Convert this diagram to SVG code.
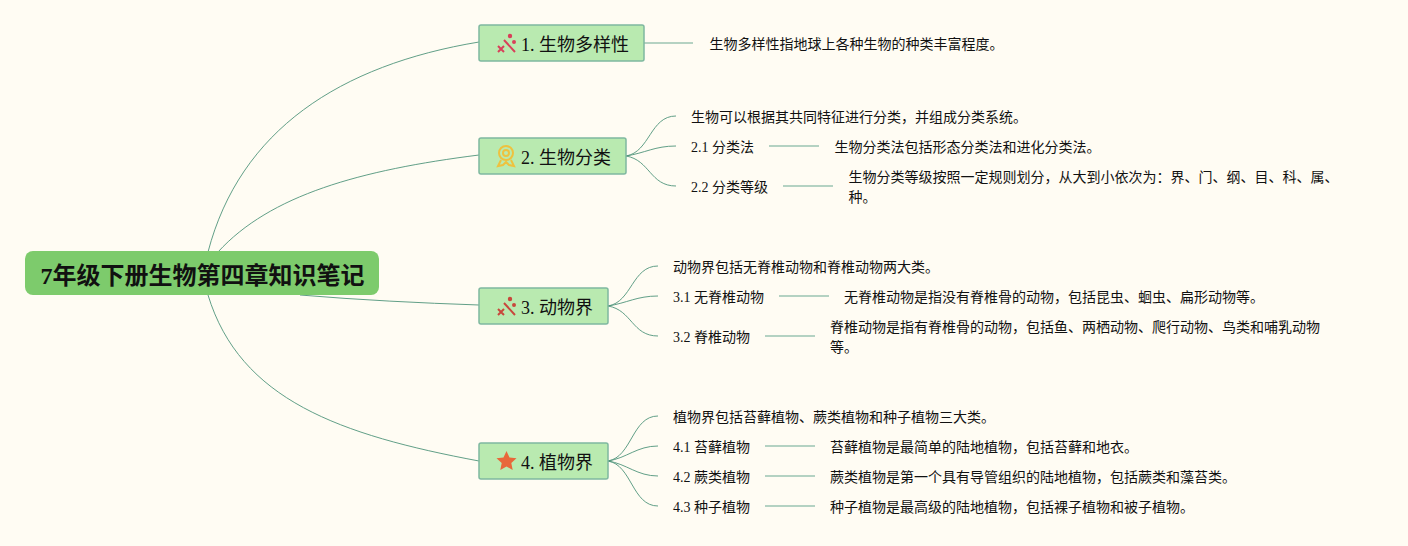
<svg xmlns="http://www.w3.org/2000/svg" width="1408" height="546" viewBox="0 0 1408 546">
<style>
text{font-family:"Liberation Serif","Noto Sans CJK SC",serif;fill:#111}
.t{font-size:14px}
.b{font-size:18px}
.box{fill:#b9eab0;stroke:#7fb8a0;stroke-width:1.5}
.c{fill:none;stroke:#4f947a;stroke-width:.9}
.l{fill:none;stroke:#9cc4b2;stroke-width:1.3}
</style>
<rect width="1408" height="546" fill="#fffcf3"/>
<g id="connectors">
<path class="c" d="M208 252C240 130 340 65 479 42"/>
<path class="c" d="M218 252C270 195 360 170 479 155"/>
<path class="c" d="M300 295C360 300 420 303 479 305"/>
<path class="c" d="M208 295C240 400 340 435 479 461"/>
<path class="l" d="M644 43H693"/>
<path class="c" d="M626 156C650 152 650 116 676 116"/>
<path class="c" d="M626 156C645 153 655 146 676 146"/>
<path class="c" d="M626 156C650 160 650 186 676 186"/>
<path class="l" d="M769 146H819M783 186H833"/>
<path class="c" d="M608 306C632 302 632 266 658 266"/>
<path class="c" d="M608 306C627 303 637 296 658 296"/>
<path class="c" d="M608 306C632 310 632 336 658 336"/>
<path class="l" d="M779 296H829M765 336H815"/>
<path class="c" d="M608 461C632 457 632 416 658 416"/>
<path class="c" d="M608 461C627 458 637 446 658 446"/>
<path class="c" d="M608 461C627 464 637 476 658 476"/>
<path class="c" d="M608 461C632 465 632 506 658 506"/>
<path class="l" d="M765 446H815M765 476H815M765 506H815"/>
</g>
<g id="root">
<rect x="25" y="251" width="354" height="44" rx="8" fill="#7dcb6c"/>
<text x="40.500" y="284" font-size="24" font-weight="bold">7年级下册生物第四章知识笔记</text>
</g>
<g id="n1">
<rect class="box" x="479" y="25" width="165" height="36" rx="2"/>
<g stroke="#d8405a" stroke-width="2" fill="#d8405a"><path d="M504 40L515 52M498 46l6 6M504 46l-6 6"/><circle cx="510" cy="36" r="1.200"/><circle cx="514" cy="42" r="1"/></g>
<text class="b" x="521" y="51">1. 生物多样性</text>
</g>
<text id="n1-1" class="t" x="709.500" y="49">生物多样性指地球上各种生物的种类丰富程度。</text>
<g id="n2">
<rect class="box" x="479" y="138" width="147" height="36" rx="2"/>
<g fill="none" stroke="#eec23f" stroke-width="2"><circle cx="506" cy="153" r="7"/><circle cx="506" cy="153" r="3"/><path d="M501 160l-3 6 5-1 3-3 3 3 5 1-3-6"/></g>
<text class="b" x="521" y="164">2. 生物分类</text>
</g>
<text id="n2-0" class="t" x="691" y="122">生物可以根据其共同特征进行分类，并组成分类系统。</text>
<text id="n2-1" class="t" x="691" y="152">2.1 分类法</text>
<text id="n2-1-1" class="t" x="834.500" y="152">生物分类法包括形态分类法和进化分类法。</text>
<text id="n2-2" class="t" x="691" y="192">2.2 分类等级</text>
<g id="n2-2-1"><text class="t" x="848.500" y="182">生物分类等级按照一定规则划分，从大到小依次为：界、门、纲、目、科、属、</text><text class="t" x="848.500" y="202">种。</text></g>
<g id="n3">
<rect class="box" x="479" y="288" width="129" height="36" rx="2"/>
<g stroke="#c8483c" stroke-width="2" fill="#c8483c"><path d="M504 303L515 315M498 309l6 6M504 309l-6 6"/><circle cx="510" cy="299" r="1.200"/><circle cx="514" cy="305" r="1"/></g>
<text class="b" x="521" y="314">3. 动物界</text>
</g>
<text id="n3-0" class="t" x="673" y="272">动物界包括无脊椎动物和脊椎动物两大类。</text>
<text id="n3-1" class="t" x="673" y="302">3.1 无脊椎动物</text>
<text id="n3-1-1" class="t" x="844" y="302">无脊椎动物是指没有脊椎骨的动物，包括昆虫、蛔虫、扁形动物等。</text>
<text id="n3-2" class="t" x="673" y="342">3.2 脊椎动物</text>
<g id="n3-2-1"><text class="t" x="830" y="332">脊椎动物是指有脊椎骨的动物，包括鱼、两栖动物、爬行动物、鸟类和哺乳动物</text><text class="t" x="830" y="352">等。</text></g>
<g id="n4">
<rect class="box" x="479" y="443" width="129" height="36" rx="2"/>
<path d="M506.500 451l3 6.500 7 .8-5.200 4.700 1.400 7-6.200-3.500-6.200 3.500 1.400-7-5.200-4.700 7-.8z" fill="#e8673a"/>
<text class="b" x="521" y="469">4. 植物界</text>
</g>
<text id="n4-0" class="t" x="673" y="422">植物界包括苔藓植物、蕨类植物和种子植物三大类。</text>
<text id="n4-1" class="t" x="673" y="452">4.1 苔藓植物</text>
<text id="n4-1-1" class="t" x="830" y="452">苔藓植物是最简单的陆地植物，包括苔藓和地衣。</text>
<text id="n4-2" class="t" x="673" y="482">4.2 蕨类植物</text>
<text id="n4-2-1" class="t" x="830" y="482">蕨类植物是第一个具有导管组织的陆地植物，包括蕨类和藻苔类。</text>
<text id="n4-3" class="t" x="673" y="512">4.3 种子植物</text>
<text id="n4-3-1" class="t" x="830" y="512">种子植物是最高级的陆地植物，包括裸子植物和被子植物。</text>
</svg>
